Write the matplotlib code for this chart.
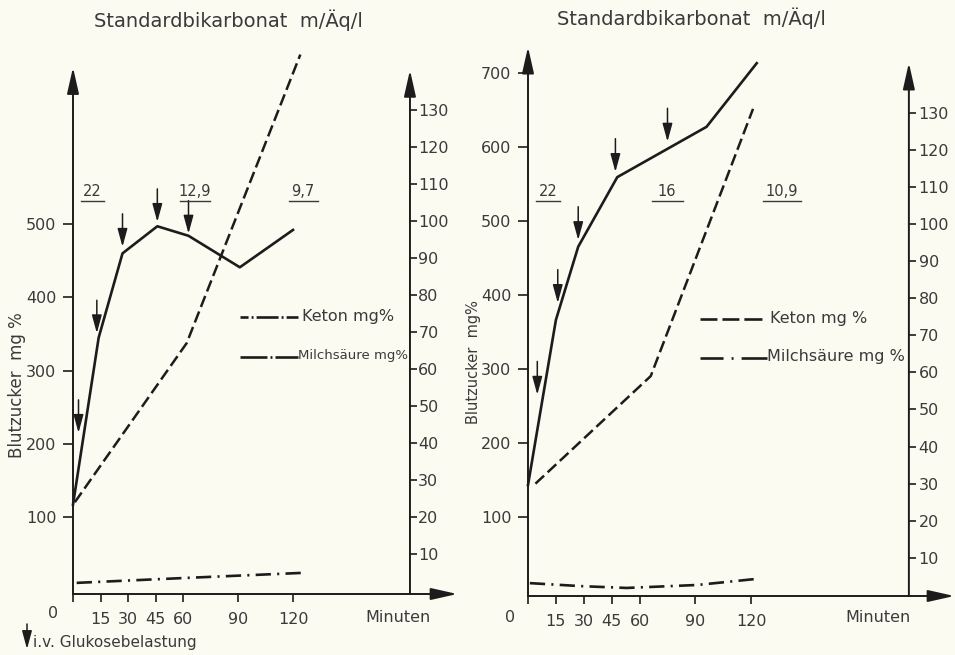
import matplotlib
matplotlib.use("Agg")
import matplotlib.pyplot as plt
from matplotlib.lines import Line2D
from matplotlib.patches import FancyArrowPatch

# Werte
minuten_ticks = [0, 15, 30, 45, 60, 90, 120]
minuten_labels = ["", "15", "30", "45", "60", "90", "120"]
mg_ticks = [10, 20, 30, 40, 50, 60, 70, 80, 90, 100, 110, 120, 130]

# linkes Diagramm
bz_zeit_l = [0, 14, 27, 46, 63, 91, 120]
bz_l = [117, 345, 460, 497, 484, 441, 492]
keton_zeit_l = [1, 62, 124]
keton_l = [24, 67, 145]
milch_zeit_l = [2, 60, 125]
milch_l = [2.2, 3.5, 4.9]
gluk_zeit_l = [3, 13, 27, 46, 63]
gluk_bz_l = [215, 351, 469, 503, 487]
bikarb_l = ["22", "12,9", "9,7"]
bz_ticks_l = [100, 200, 300, 400, 500]

# rechtes Diagramm
bz_zeit_r = [0, 15, 27, 48, 96, 123]
bz_r = [143, 366, 465, 559, 627, 713]
keton_zeit_r = [4, 66, 121]
keton_r = [30, 59, 131]
milch_zeit_r = [1, 28, 53, 91, 122]
milch_r = [3.2, 2.4, 1.9, 2.7, 4.3]
gluk_zeit_r = [5, 16, 27, 47, 75]
gluk_bz_r = [265, 389, 474, 566, 607]
bikarb_r = ["22", "16", "10,9"]
bz_ticks_r = [100, 200, 300, 400, 500, 600, 700]

W, H = 955, 655
BG = "#fbfbf2"
INK = "#1c1c1c"
TXT = "#3a3a3a"

plt.rcParams["font.family"] = ["DejaVu Sans"]
plt.rcParams["lines.scale_dashes"] = False

fig = plt.figure(figsize=(W / 100, H / 100), dpi=100, facecolor=BG)


def fx(x):
    return x / W


def fy(y):
    return 1 - y / H


def pfeil(ax, start, end, hl=1.6, hw=0.36, lw=1.4):
    ax.annotate("", xy=end, xytext=start, annotation_clip=False,
                arrowprops=dict(arrowstyle=f"-|>,head_length={hl},head_width={hw}",
                                color=INK, lw=lw, shrinkA=0, shrinkB=0,
                                mutation_scale=10))


def panel(box, xmax, ylim, rlim, xr, ytip, rtip, bz_ticks,
          bz_t, bz, ket_t, ket, mil_t, mil, gl_t, gl_v, rpad):
    x0, x1, ytop, ybot = box
    ax = fig.add_axes([fx(x0), fy(ybot), (x1 - x0) / W, (ybot - ytop) / H])
    ax.set_xlim(0, xmax)
    ax.set_ylim(*ylim)
    ax.patch.set_visible(False)
    rx = ax.twinx()
    rx.set_ylim(*rlim)
    for a in (ax, rx):
        for s in a.spines.values():
            s.set_visible(False)
    rx.spines["right"].set_position(("data", xr))

    ax.set_xticks(minuten_ticks, minuten_labels)
    ax.set_yticks(bz_ticks)
    ax.tick_params(axis="both", direction="out", color=INK, labelcolor=TXT,
                   labelsize=11.5, width=1.2)
    ax.tick_params(axis="x", length=6, pad=7)
    ax.tick_params(axis="y", length=7, pad=5)
    rx.set_yticks(mg_ticks)
    rx.tick_params(axis="y", direction="out", length=5, pad=rpad, width=1.2,
                   color=INK, labelcolor=TXT, labelsize=11.5)

    # Achsen mit Pfeilspitzen
    pfeil(ax, (0, ylim[0]), (0, ytip))
    pfeil(ax, (0, ylim[0]), (xmax - 0.4, ylim[0]))
    pfeil(rx, (xr, rlim[0]), (xr, rtip))

    ax.plot(bz_t, bz, color=INK, lw=1.9, clip_on=False)
    rx.plot(ket_t, ket, color=INK, lw=1.8, ls=(0, (8.5, 3.5)), clip_on=False)
    rx.plot(mil_t, mil, color=INK, lw=1.9, ls=(0, (11, 4.5, 1.5, 4.5)),
            clip_on=False)

    for m, v in zip(gl_t, gl_v):
        pfeil(ax, (m, v + 45), (m, v), hl=1.1, hw=0.3, lw=1.1)
    return ax


panel((73, 458, 44.6, 594), 210.0, (-5, 745), (-0.81, 147.7), 183.8, 714, 140.8,
      bz_ticks_l, bz_zeit_l, bz_l, keton_zeit_l, keton_l, milch_zeit_l, milch_l,
      gluk_zeit_l, gluk_bz_l, 1)
panel((528, 955, 43.2, 596), 229.6, (-7, 740), (-0.27, 148.7), 204.8, 735, 143.4,
      bz_ticks_r, bz_zeit_r, bz_r, keton_zeit_r, keton_r, milch_zeit_r, milch_r,
      gluk_zeit_r, gluk_bz_r, 2)

# Texte
for x, y in [(228, 20), (691, 18)]:
    fig.text(fx(x), fy(y), "Standardbikarbonat  m/Äq/l", ha="center", va="center",
             fontsize=14, color=TXT)
fig.text(fx(17), fy(385), "Blutzucker  mg %", rotation=90, ha="center",
         va="center", fontsize=12, color=TXT)
fig.text(fx(473), fy(362), "Blutzucker  mg%", rotation=90, ha="center",
         va="center", fontsize=10.5, color=TXT)
fig.text(fx(53), fy(614), "0", ha="center", va="center", fontsize=11.5, color=TXT)
fig.text(fx(510), fy(617), "0", ha="center", va="center", fontsize=11.5, color=TXT)
fig.text(fx(398), fy(617), "Minuten", ha="center", va="center", fontsize=11.5,
         color=TXT)
fig.text(fx(878), fy(617), "Minuten", ha="center", va="center", fontsize=11.5,
         color=TXT)

# Bikarbonat-Werte, unterstrichen
lagen = [(92, 11.5), (195, 15), (303, 14.5), (548, 12), (667, 15.5), (782, 19)]
for txt, (x, hb) in zip(bikarb_l + bikarb_r, lagen):
    fig.text(fx(x), fy(192), txt, ha="center", va="center", fontsize=10.5,
             color=TXT)
    fig.add_artist(Line2D([fx(x - hb), fx(x + hb)], [fy(201), fy(201)],
                          color=TXT, lw=1.0, transform=fig.transFigure))

# Legenden
legende = [
    (240, 298, 317, (0, (5.8, 2.2, 1.4, 2.2, 15.8, 2.2, 1.4, 2.2, 8.6)),
     302, "Keton mg%", 11.5),
    (240, 298, 357, (0, (19.4, 2.2, 1.4, 2.2, 16.6)), 298, "Milchsäure mg%", 9.5),
    (700, 762, 319, (0, (12.2, 3.6, 12.2, 3.6, 13)), 770, "Keton mg %", 11.5),
    (700, 767, 358, (0, (16.6, 5.8, 1.4, 5.8, 18.7)), 767, "Milchsäure mg %", 11.5),
]
for xa, xb, y, stil, xt, txt, fs in legende:
    fig.add_artist(Line2D([fx(xa), fx(xb)], [fy(y), fy(y)], color=INK, lw=1.9,
                          ls=stil, solid_capstyle="butt", dash_capstyle="butt",
                          transform=fig.transFigure))
    fig.text(fx(xt), fy(y - 1), txt, ha="left", va="center", fontsize=fs,
             color=TXT)

# Fussnote
fig.add_artist(FancyArrowPatch(posA=(fx(27), fy(624)), posB=(fx(27), fy(649)),
                               transform=fig.transFigure, color=INK, lw=1.1,
                               arrowstyle="-|>,head_length=1.1,head_width=0.3",
                               mutation_scale=10, shrinkA=0, shrinkB=0))
fig.text(fx(33), fy(642), "i.v. Glukosebelastung", ha="left", va="center",
         fontsize=11, color=TXT)

fig.savefig("out.png", dpi=100, facecolor=BG)
